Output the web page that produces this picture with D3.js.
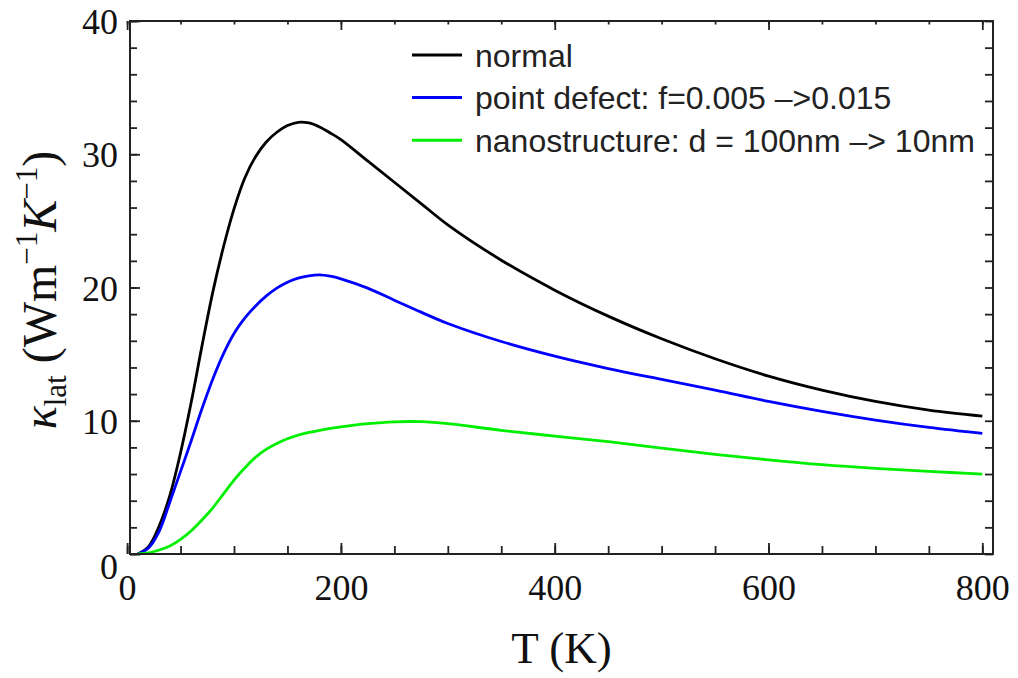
<!DOCTYPE html>
<html>
<head>
<meta charset="utf-8">
<script src="https://cdn.jsdelivr.net/npm/d3@7"></script>
<style>
  html, body { margin: 0; padding: 0; background: #fff; }
  svg { display: block; }
</style>
</head>
<body>
<svg id="chart" width="1018" height="678"></svg>
<script>
// ---- data ----
const temperature = [10, 20, 30, 40, 50, 60, 70, 80, 90, 100, 110, 120, 130, 140, 150, 160, 170, 180, 190, 200,
                     225, 250, 275, 300, 350, 400, 450, 500, 550, 600, 650, 700, 750, 800];
const normal = [0.0, 0.55, 2.1, 4.4, 7.6, 11.4, 15.6, 19.6, 23.0, 25.9, 28.2, 29.8, 30.9, 31.65, 32.15, 32.4, 32.35, 32.05, 31.6, 31.1,
                29.5, 27.9, 26.3, 24.7, 22.05, 19.8, 17.85, 16.15, 14.65, 13.35, 12.3, 11.45, 10.8, 10.35];
const pointDefect = [0.0, 0.45, 1.7, 3.9, 6.2, 8.5, 10.9, 13.1, 15.0, 16.55, 17.7, 18.6, 19.35, 19.95, 20.4, 20.7, 20.88, 20.95, 20.85, 20.65,
                     19.95, 19.05, 18.15, 17.3, 15.95, 14.85, 13.92, 13.1, 12.3, 11.45, 10.7, 10.05, 9.5, 9.05];
const nanostructure = [0.0, 0.08, 0.3, 0.6, 1.1, 1.75, 2.55, 3.45, 4.5, 5.55, 6.45, 7.25, 7.85, 8.3, 8.65, 8.92, 9.12, 9.28, 9.42, 9.54,
                       9.78, 9.92, 9.93, 9.78, 9.28, 8.85, 8.43, 7.95, 7.47, 7.06, 6.7, 6.42, 6.2, 6.0];
const seriesNames = ["normal", "point defect: f=0.005 –>0.015", "nanostructure: d = 100nm –> 10nm"];
const seriesColors = ["#000000", "#0000ff", "#00ee00"];
const xTicks = [0, 200, 400, 600, 800];
const yTicks = [0, 10, 20, 30, 40];

// ---- layout ----
const svg = d3.select("#chart");
const mLeft = 130, mRight = 993, mTop = 21, mBottom = 554;
const x = d3.scaleLinear().domain([2.7, 810]).range([mLeft, mRight]);
const y = d3.scaleLinear().domain([0, 40]).range([mBottom, mTop]);
const serif = "'Liberation Serif', 'Times New Roman', serif";
const sans = "'Liberation Sans', Arial, Helvetica, sans-serif";
const frameColor = "#222";

// ---- curves ----
const allSeries = [normal, pointDefect, nanostructure];
const line = d3.line().x(d => x(d[0])).y(d => y(Math.max(0, d[1]))).curve(d3.curveCatmullRom.alpha(0.5));
const plot = svg.append("g");
allSeries.forEach((vals, i) => {
  plot.append("path")
    .datum(temperature.map((t, j) => [t, vals[j]]))
    .attr("fill", "none")
    .attr("stroke", seriesColors[i])
    .attr("stroke-width", 2.8)
    .attr("stroke-linejoin", "round")
    .attr("d", line);
});

// ---- axes ----
function styleAxis(g) {
  g.select(".domain").remove();
  g.selectAll(".tick line").attr("stroke", frameColor).attr("stroke-width", 1.8);
}
const minorX = d3.range(0, 801, 50);
const minorY = d3.range(0, 41, 2);

svg.append("g").attr("transform", `translate(0,${mBottom})`)
  .call(d3.axisBottom(x).tickValues(minorX).tickSizeInner(-8).tickSizeOuter(0).tickFormat(""))
  .call(styleAxis);
const gx = svg.append("g").attr("transform", `translate(0,${mBottom})`)
  .call(d3.axisBottom(x).tickValues(xTicks).tickSizeInner(-11).tickSizeOuter(0).tickFormat(d3.format("d")))
  .call(styleAxis);
gx.selectAll(".tick text")
  .attr("y", 46).attr("dy", 0)
  .attr("fill", "#111")
  .style("font-family", serif).style("font-size", "36px");

svg.append("g").attr("transform", `translate(${mLeft},0)`)
  .call(d3.axisLeft(y).tickValues(minorY).tickSizeInner(-7).tickSizeOuter(0).tickFormat(""))
  .call(styleAxis);
const gy = svg.append("g").attr("transform", `translate(${mLeft},0)`)
  .call(d3.axisLeft(y).tickValues(yTicks).tickSizeInner(-10).tickSizeOuter(0).tickFormat(d3.format("d")))
  .call(styleAxis);
gy.selectAll(".tick text")
  .attr("x", -12).attr("dy", d => d === 0 ? "0.68em" : "0.35em")
  .attr("fill", "#111")
  .style("font-family", serif).style("font-size", "36px");

svg.append("g").attr("transform", `translate(0,${mTop})`)
  .call(d3.axisTop(x).tickValues(minorX).tickSizeInner(-3.5).tickSizeOuter(0).tickFormat(""))
  .call(styleAxis);
svg.append("g").attr("transform", `translate(0,${mTop})`)
  .call(d3.axisTop(x).tickValues(xTicks).tickSizeInner(-9).tickSizeOuter(0).tickFormat(""))
  .call(styleAxis);
svg.append("g").attr("transform", `translate(${mRight},0)`)
  .call(d3.axisRight(y).tickValues(minorY).tickSizeInner(-8).tickSizeOuter(0).tickFormat(""))
  .call(styleAxis);

svg.append("rect")
  .attr("x", mLeft).attr("y", mTop)
  .attr("width", mRight - mLeft).attr("height", mBottom - mTop)
  .attr("fill", "none").attr("stroke", frameColor).attr("stroke-width", 2);

// ---- axis titles ----
svg.append("text")
  .attr("x", (mLeft + mRight) / 2).attr("y", 663)
  .attr("text-anchor", "middle")
  .attr("fill", "#111")
  .style("font-family", serif).style("font-size", "45px")
  .text("T (K)");

const yt = svg.append("text")
  .attr("transform", `translate(56,290) rotate(-90)`)
  .attr("text-anchor", "middle")
  .attr("fill", "#111")
  .style("font-family", serif).style("font-size", "48px");
yt.append("tspan").style("font-style", "italic").text("κ");
yt.append("tspan").attr("dy", 10).style("font-size", "31px").text("lat");
yt.append("tspan").attr("dy", -10).text(" (Wm");
yt.append("tspan").attr("dy", -19).style("font-size", "31px").text("−1");
yt.append("tspan").attr("dy", 19).style("font-style", "italic").text("K");
yt.append("tspan").attr("dy", -19).style("font-size", "31px").text("−1");
yt.append("tspan").attr("dy", 19).text(")");

// ---- legend ----
const legend = svg.append("g");
seriesNames.forEach((name, i) => {
  const ly = 55 + i * 42.6;
  legend.append("line")
    .attr("x1", 412).attr("x2", 462).attr("y1", ly).attr("y2", ly)
    .attr("stroke", seriesColors[i]).attr("stroke-width", 3);
  legend.append("text")
    .attr("x", 475).attr("y", ly + 11.5)
    .attr("fill", "#222")
    .style("font-family", sans).style("font-size", "32px")
    .text(name);
});
</script>
</body>
</html>
